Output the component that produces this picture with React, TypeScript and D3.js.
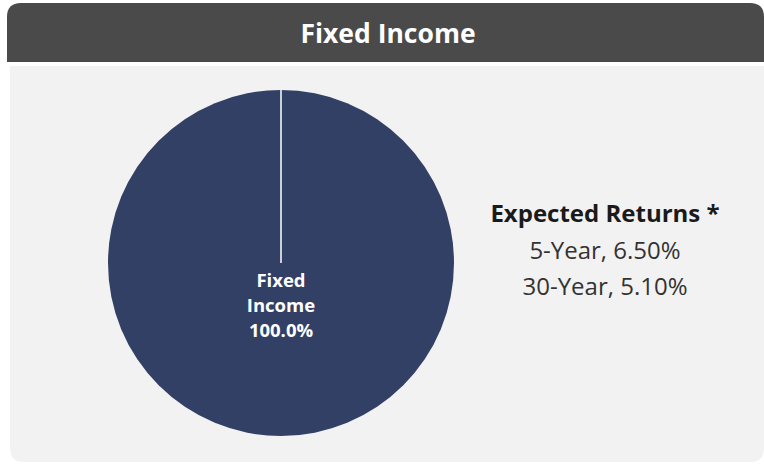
import React from 'react';
import * as d3 from 'd3';

// chart values
const sliceNames = ['Fixed Income'];
const sliceValues = [100];
const sliceColors = ['#324066'];
const title = 'Fixed Income';
const returnsTitle = 'Expected Returns *';
const returnLabels = ['5-Year', '30-Year'];
const returnValues = [6.5, 5.1];

const W = 764;
const H = 464;
const FONT = '"Open Sans", "DejaVu Sans", sans-serif';

const App = () => {
  const cx = 281;
  const cy = 263;
  const r = 173;

  const pie = d3.pie<number>().sort(null).value(d => d);
  const arcs = pie(sliceValues);
  const arc = d3.arc<d3.PieArcDatum<number>>().innerRadius(0).outerRadius(r);
  const total = d3.sum(sliceValues);
  const pct = d3.format('.1f');
  const retFmt = d3.format('.2f');

  // header / panel shapes
  const hx = 7, hy = 3, hw = W - 7, hh = 59, rad = 14;
  const px = 10, py = 66, pw = W - 10, ph = 396;
  const headerPath = `M${hx},${hy + hh} V${hy + rad} Q${hx},${hy} ${hx + rad},${hy} H${hx + hw - rad} Q${hx + hw},${hy} ${hx + hw},${hy + rad} V${hy + hh} Z`;
  const panelPath = `M${px},${py} H${px + pw} V${py + ph - rad} Q${px + pw},${py + ph} ${px + pw - rad},${py + ph} H${px + rad} Q${px},${py + ph} ${px},${py + ph - rad} Z`;

  return (
    <svg width={W} height={H} style={{position: 'absolute', left: 0, top: 0, background: '#fff'}}>
      <path d={headerPath} fill="#4a4a4a" />
      <text x={388} y={43} textAnchor="middle" fill="#fff"
            fontFamily={FONT} fontWeight="bold" fontSize={26.5}>{title}</text>
      <path d={panelPath} fill="#f2f2f2" />

      <g transform={`translate(${cx},${cy})`}>
        {arcs.map((a, i) => (
          <path key={'s' + i} d={arc(a) || ''} fill={sliceColors[i]} />
        ))}
        {arcs.map((a, i) => {
          const [x2, y2] = d3.pointRadial(a.startAngle, r);
          return <line key={'l' + i} x1={0} y1={0} x2={x2} y2={y2} stroke="#fff" strokeWidth={1.5} />;
        })}
        {arcs.map((a, i) => (
          <text key={'t' + i} textAnchor="middle" fill="#fff" fontFamily={FONT}
                fontWeight="bold" fontSize={18.5}>
            {sliceNames[i].split(' ').concat([pct((sliceValues[i] / total) * 100) + '%']).map((s, j) => (
              <tspan key={j} x={0} y={24 + j * 25}>{s}</tspan>
            ))}
          </text>
        ))}
      </g>

      <g transform="translate(605,0)" fontFamily={FONT}>
        <text y={222} textAnchor="middle" fill="#1a1a1a" fontWeight="bold" fontSize={24}>{returnsTitle}</text>
        {returnLabels.map((l, i) => (
          <text key={l} y={259 + i * 36} textAnchor="middle" fill="#333" fontSize={24}>
            {`${l}, ${retFmt(returnValues[i])}%`}
          </text>
        ))}
      </g>
    </svg>
  );
};

export default App;
